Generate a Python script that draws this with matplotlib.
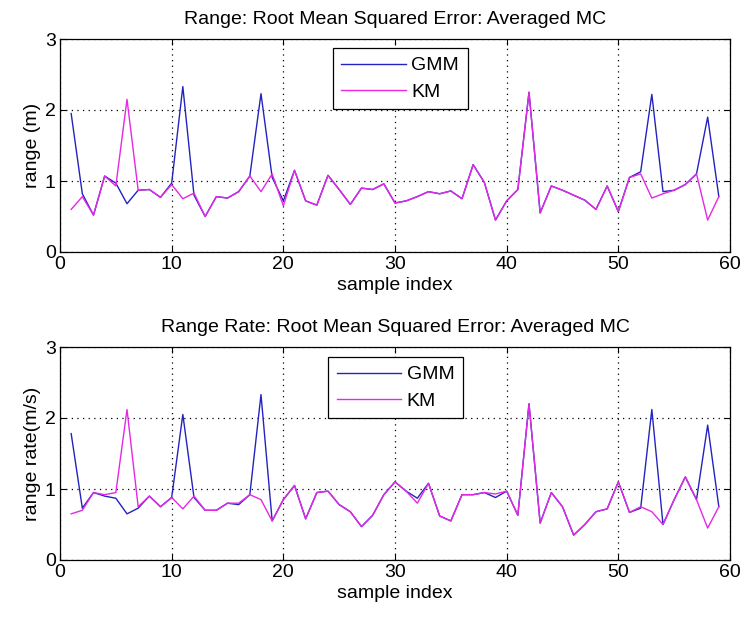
import numpy as np
import matplotlib
matplotlib.use("Agg")
import matplotlib.pyplot as plt

plt.rcParams['font.family'] = ['Liberation Sans', 'DejaVu Sans']

# sample index
idx = np.arange(1, 60)

# range RMSE
range_gmm = [1.95, 0.82, 0.52, 1.07, 0.97, 0.68, 0.87, 0.88, 0.77, 0.97,
             2.33, 0.80, 0.50, 0.78, 0.76, 0.85, 1.07, 2.23, 1.05, 0.72,
             1.15, 0.72, 0.66, 1.08, 0.88, 0.67, 0.90, 0.88, 0.96, 0.69,
             0.72, 0.78, 0.85, 0.82, 0.86, 0.75, 1.23, 0.98, 0.45, 0.72,
             0.88, 2.25, 0.55, 0.93, 0.87, 0.80, 0.73, 0.60, 0.93, 0.57,
             1.05, 1.13, 2.22, 0.85, 0.87, 0.95, 1.10, 1.90, 0.78]
range_km = [0.60, 0.78, 0.52, 1.07, 0.93, 2.15, 0.87, 0.88, 0.77, 0.95,
            0.75, 0.83, 0.50, 0.78, 0.76, 0.85, 1.07, 0.85, 1.10, 0.65,
            1.15, 0.72, 0.66, 1.08, 0.88, 0.67, 0.90, 0.88, 0.96, 0.69,
            0.72, 0.78, 0.85, 0.82, 0.86, 0.75, 1.23, 0.98, 0.45, 0.72,
            0.88, 2.25, 0.55, 0.93, 0.87, 0.80, 0.73, 0.60, 0.93, 0.57,
            1.05, 1.10, 0.76, 0.82, 0.87, 0.95, 1.10, 0.45, 0.78]

# range rate RMSE
rate_gmm = [1.78, 0.73, 0.95, 0.90, 0.87, 0.65, 0.73, 0.90, 0.75, 0.88,
            2.05, 0.88, 0.70, 0.70, 0.80, 0.78, 0.92, 2.33, 0.55, 0.85,
            1.05, 0.58, 0.95, 0.97, 0.78, 0.68, 0.47, 0.63, 0.92, 1.10,
            0.97, 0.87, 1.08, 0.62, 0.55, 0.92, 0.92, 0.95, 0.88, 0.97,
            0.63, 2.20, 0.52, 0.95, 0.75, 0.35, 0.50, 0.68, 0.72, 1.10,
            0.67, 0.73, 2.12, 0.50, 0.85, 1.17, 0.85, 1.90, 0.75]
rate_km = [0.65, 0.70, 0.95, 0.92, 0.95, 2.12, 0.75, 0.90, 0.75, 0.88,
           0.72, 0.90, 0.70, 0.70, 0.80, 0.80, 0.92, 0.85, 0.55, 0.85,
           1.05, 0.58, 0.95, 0.97, 0.78, 0.68, 0.47, 0.63, 0.92, 1.10,
           0.97, 0.80, 1.08, 0.62, 0.55, 0.92, 0.92, 0.95, 0.93, 0.97,
           0.63, 2.20, 0.52, 0.95, 0.75, 0.35, 0.50, 0.68, 0.72, 1.10,
           0.67, 0.75, 0.68, 0.50, 0.85, 1.17, 0.85, 0.45, 0.75]

W, H = 743, 620
fig = plt.figure(figsize=(W / 100, H / 100), dpi=100)
fs = 14

def make_axes(top_px, gmm, km, title, ylab, leg_anchor):
    ax = fig.add_axes([60 / W, 1 - (top_px + 213) / H, 670 / W, 213 / H])
    ax.plot(idx, gmm, color='#2323c0', lw=1.0, label='GMM')
    ax.plot(idx, km, color='#e628e6', lw=1.0, label='KM')
    ax.set_xlim(0, 60)
    ax.set_ylim(0, 3)
    ax.set_xticks([0, 10, 20, 30, 40, 50, 60])
    ax.set_yticks([0, 1, 2, 3])
    ax.grid(True, color='black', linestyle=(0, (1, 3.5)), linewidth=0.9)
    ax.tick_params(direction='in', top=True, right=True, length=4,
                   labelsize=fs, pad=3, width=0.8)
    for s in ax.spines.values():
        s.set_linewidth(0.9)
    ax.set_title(title, fontsize=fs, pad=11)
    ax.set_xlabel('sample index', fontsize=fs, labelpad=3)
    ax.set_ylabel(ylab, fontsize=fs, labelpad=3)
    leg = ax.legend(loc='upper left', bbox_to_anchor=leg_anchor, fontsize=fs,
                    fancybox=False, framealpha=1, edgecolor='black',
                    handlelength=3.3, borderpad=0.45, labelspacing=0.45,
                    handletextpad=0.3, borderaxespad=0)
    leg.get_frame().set_linewidth(0.9)
    return ax

make_axes(39, range_gmm, range_km,
          'Range: Root Mean Squared Error: Averaged MC', 'range (m)',
          (0.407, 0.958))
make_axes(347, rate_gmm, rate_km,
          'Range Rate: Root Mean Squared Error: Averaged MC', 'range rate(m/s)',
          (0.40, 0.953))

fig.savefig('out.png', dpi=100, facecolor='white')
